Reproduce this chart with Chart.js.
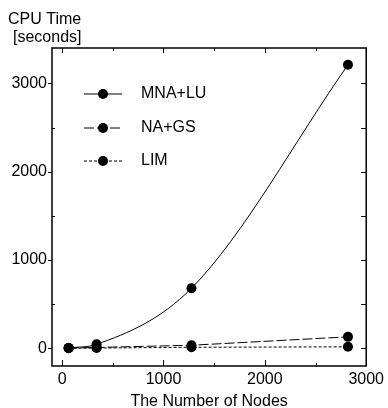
<!DOCTYPE html>
<html>
<head>
<meta charset="utf-8">
<script src="https://cdn.jsdelivr.net/npm/chart.js@4"></script>
<style>
  html, body { margin: 0; padding: 0; background: #fff; }
  #wrap { width: 388px; height: 408px; position: relative; }
</style>
</head>
<body>
<div id="wrap"><canvas id="chart"></canvas></div>
<script>
/* data */
const nodes = [64, 340, 1276, 2820];
const mnaLu = [5, 45, 680, 3210];
const naGs = [3, 10, 35, 130];
const lim = [1, 3, 12, 17];

const xTicks = [0, 1000, 2000, 3000];
const xMinor = [500, 1500, 2500];
const yTicks = [0, 1000, 2000, 3000];
const yMinor = [500, 1500, 2500];

const FONT = "'Liberation Sans', Arial, Helvetica, sans-serif";

function toPoints(ys) {
  return nodes.map((x, i) => ({ x: x, y: ys[i] }));
}

/* frame + inward ticks + y title + legend inside the plot */
const framePlugin = {
  id: "frame",
  afterDraw(chart) {
    const ctx = chart.ctx;
    const a = chart.chartArea;
    const xs = chart.scales.x;
    const ys = chart.scales.y;
    ctx.save();
    ctx.strokeStyle = "#000";
    ctx.lineWidth = 1.5;
    ctx.strokeRect(a.left, a.top, a.right - a.left, a.bottom - a.top);

    ctx.lineWidth = 1;
    ctx.beginPath();
    xTicks.forEach(v => {
      const px = Math.round(xs.getPixelForValue(v)) + 0.5;
      ctx.moveTo(px, a.bottom); ctx.lineTo(px, a.bottom - 6);
      ctx.moveTo(px, a.top); ctx.lineTo(px, a.top + 5);
    });
    xMinor.forEach(v => {
      const px = Math.round(xs.getPixelForValue(v)) + 0.5;
      ctx.moveTo(px, a.bottom); ctx.lineTo(px, a.bottom - 3);
      ctx.moveTo(px, a.top); ctx.lineTo(px, a.top + 3);
    });
    yTicks.forEach(v => {
      const py = Math.round(ys.getPixelForValue(v)) + 0.5;
      ctx.moveTo(a.left - 4, py); ctx.lineTo(a.left, py);
      ctx.moveTo(a.right, py); ctx.lineTo(a.right - 5, py);
    });
    yMinor.forEach(v => {
      const py = Math.round(ys.getPixelForValue(v)) + 0.5;
      ctx.moveTo(a.left, py); ctx.lineTo(a.left + 3, py);
      ctx.moveTo(a.right, py); ctx.lineTo(a.right - 5, py);
    });
    ctx.stroke();

    // y axis title, top left
    ctx.fillStyle = "#000";
    ctx.font = "16px " + FONT;
    ctx.textAlign = "left";
    ctx.textBaseline = "middle";
    ctx.fillText("CPU Time", 8, 20);
    ctx.fillText("[seconds]", 13, 38);

    // legend
    const rows = [94, 128, 161];
    chart.data.datasets.forEach((ds, i) => {
      const y = rows[i];
      ctx.strokeStyle = "#000";
      ctx.lineWidth = 1;
      ctx.setLineDash(ds.borderDash || []);
      ctx.beginPath();
      ctx.moveTo(84, y); ctx.lineTo(122, y);
      ctx.stroke();
      ctx.setLineDash([]);
      ctx.beginPath();
      ctx.arc(103, y, 5, 0, Math.PI * 2);
      ctx.fill();
      ctx.fillText(ds.label, 141, y);
    });
    ctx.restore();
  }
};

new Chart(document.getElementById("chart"), {
  type: "line",
  data: {
    datasets: [
      {
        label: "MNA+LU",
        data: toPoints(mnaLu),
        borderColor: "#000",
        backgroundColor: "#000",
        borderWidth: 1,
        cubicInterpolationMode: "monotone",
        pointRadius: 5,
        pointBorderWidth: 0
      },
      {
        label: "NA+GS",
        data: toPoints(naGs),
        borderColor: "#000",
        backgroundColor: "#000",
        borderWidth: 1,
        borderDash: [10, 3],
        pointRadius: 5,
        pointBorderWidth: 0
      },
      {
        label: "LIM",
        data: toPoints(lim),
        borderColor: "#000",
        backgroundColor: "#000",
        borderWidth: 1,
        borderDash: [3, 2],
        pointRadius: 5,
        pointBorderWidth: 0
      }
    ]
  },
  options: {
    responsive: true,
    maintainAspectRatio: false,
    animation: false,
    layout: { padding: { left: 0, right: 18, top: 48, bottom: 0 } },
    plugins: {
      legend: { display: false },
      tooltip: { enabled: false }
    },
    scales: {
      x: {
        type: "linear",
        min: -100,
        max: 3000,
        grid: { display: false, drawTicks: false },
        border: { display: false },
        afterBuildTicks: s => { s.ticks = xTicks.map(v => ({ value: v })); },
        afterFit: s => { s.height = 42; },
        ticks: {
          color: "#000",
          padding: 4,
          maxRotation: 0,
          callback: v => String(v),
          font: { family: FONT, size: 16 }
        },
        title: {
          display: true,
          text: "The Number of Nodes",
          color: "#000",
          padding: { top: 0, bottom: -3 },
          font: { family: FONT, size: 16 }
        }
      },
      y: {
        type: "linear",
        min: -200,
        max: 3400,
        grid: { display: false, drawTicks: false },
        border: { display: false },
        afterBuildTicks: s => { s.ticks = yTicks.map(v => ({ value: v })); },
        afterFit: s => { s.width = 52; },
        ticks: {
          color: "#000",
          padding: 5,
          callback: v => String(v),
          font: { family: FONT, size: 16 }
        }
      }
    }
  },
  plugins: [framePlugin]
});
</script>
</body>
</html>
